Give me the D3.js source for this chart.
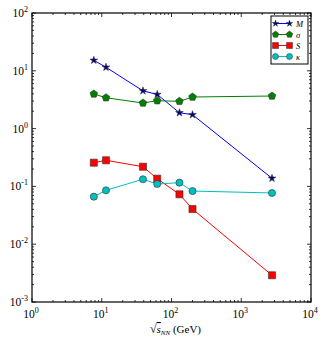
<!DOCTYPE html>
<html>
<head>
<meta charset="utf-8">
<script src="https://cdn.jsdelivr.net/npm/d3@7"></script>
<style>
  body { margin: 0; background: #fff; }
  text { font-family: "Liberation Serif", "DejaVu Serif", serif; }
</style>
</head>
<body>
<svg width="327" height="343"></svg>
<script>
// collision energies (GeV)
const energies = [7.7, 11.5, 39, 62.4, 130, 200, 2760];
const valuesM = [15.2, 11.5, 4.5, 3.9, 1.88, 1.74, 0.138];
const valuesSigma = [3.98, 3.42, 2.77, 3.04, 2.96, 3.52, 3.66];
const valuesS = [0.257, 0.283, 0.219, 0.136, 0.073, 0.0406, 0.0029];
const valuesKappa = [0.0664, 0.0855, 0.133, 0.110, 0.116, 0.083, 0.077];
const xTicks = [0, 1, 2, 3, 4];
const yTicks = [-3, -2, -1, 0, 1, 2];
const legendLabels = ["M", "σ", "S", "κ"];

const svg = d3.select("svg"),
    margin = {top: 13, right: 16, bottom: 41, left: 32},
    width = +svg.attr("width") - margin.left - margin.right,
    height = +svg.attr("height") - margin.top - margin.bottom;

const x = d3.scaleLog().domain([1, 1e4]).range([margin.left, margin.left + width]);
const y = d3.scaleLog().domain([1e-3, 1e2]).range([margin.top + height, margin.top]);

const series = [
    {label: legendLabels[0], values: valuesM, color: "#0000ff", fill: "#000080", marker: "star"},
    {label: legendLabels[1], values: valuesSigma, color: "#008000", fill: "#008000", marker: "pentagon"},
    {label: legendLabels[2], values: valuesS, color: "#ff0000", fill: "#ff0000", marker: "square"},
    {label: legendLabels[3], values: valuesKappa, color: "#00bfbf", fill: "#00bfbf", marker: "circle"}
];

function markerPath(type) {
    if (type === "star") return d3.symbol().type(d3.symbolStar).size(18)();
    if (type === "square") return d3.symbol().type(d3.symbolSquare).size(50)();
    if (type === "circle") return d3.symbol().type(d3.symbolCircle).size(40)();
    // pentagon
    const r = 4, pts = [];
    for (let i = 0; i < 5; i++) {
        const a = -Math.PI / 2 + i * 2 * Math.PI / 5;
        pts.push([r * Math.cos(a), r * Math.sin(a)]);
    }
    return "M" + pts.map(p => p.join(",")).join("L") + "Z";
}

// minor ticks
const minorX = [], minorY = [];
for (let d = 0; d < 4; d++) for (let k = 2; k <= 9; k++) minorX.push(k * Math.pow(10, d));
for (let d = -3; d < 2; d++) for (let k = 2; k <= 9; k++) minorY.push(k * Math.pow(10, d));

const ticks = svg.append("g").attr("stroke", "#000").attr("stroke-width", 0.8);
const x0 = margin.left, x1 = margin.left + width, y0 = margin.top + height, y1 = margin.top;
xTicks.forEach(e => {
    const px = x(Math.pow(10, e));
    ticks.append("line").attr("x1", px).attr("x2", px).attr("y1", y0).attr("y2", y0 - 4);
    ticks.append("line").attr("x1", px).attr("x2", px).attr("y1", y1).attr("y2", y1 + 4);
});
minorX.forEach(v => {
    const px = x(v);
    ticks.append("line").attr("x1", px).attr("x2", px).attr("y1", y0).attr("y2", y0 - 2);
    ticks.append("line").attr("x1", px).attr("x2", px).attr("y1", y1).attr("y2", y1 + 2);
});
yTicks.forEach(e => {
    const py = y(Math.pow(10, e));
    ticks.append("line").attr("x1", x0).attr("x2", x0 + 4).attr("y1", py).attr("y2", py);
    ticks.append("line").attr("x1", x1).attr("x2", x1 - 4).attr("y1", py).attr("y2", py);
});
minorY.forEach(v => {
    const py = y(v);
    ticks.append("line").attr("x1", x0).attr("x2", x0 + 2).attr("y1", py).attr("y2", py);
    ticks.append("line").attr("x1", x1).attr("x2", x1 - 2).attr("y1", py).attr("y2", py);
});

// tick labels
xTicks.forEach(e => {
    const t = svg.append("text")
        .attr("x", x(Math.pow(10, e)) - 1)
        .attr("y", y0 + 16)
        .attr("text-anchor", "middle")
        .attr("font-size", 11.5);
    t.append("tspan").text("10");
    t.append("tspan").attr("dy", -5).attr("font-size", 8).text(e);
});
yTicks.forEach(e => {
    const t = svg.append("text")
        .attr("x", x0 - 4)
        .attr("y", y(Math.pow(10, e)) + 4)
        .attr("text-anchor", "end")
        .attr("font-size", 11.5);
    t.append("tspan").text("10");
    t.append("tspan").attr("dy", -5).attr("font-size", 8).text(e);
});

// axis label
const xl = svg.append("text")
    .attr("x", (x0 + x1) / 2 + 4)
    .attr("y", 333)
    .attr("text-anchor", "middle")
    .attr("font-size", 11);
xl.append("tspan").attr("font-size", 12).text("√");
xl.append("tspan").attr("text-decoration", "overline").attr("font-style", "italic").text("s");
xl.append("tspan").attr("dy", 2).attr("font-size", 7).attr("font-style", "italic").text("NN");
xl.append("tspan").attr("dy", -2).text(" (GeV)");

// lines and markers
const line = d3.line()
    .x((d, i) => x(energies[i]))
    .y(d => y(d));

series.forEach(s => {
    svg.append("path")
        .datum(s.values)
        .attr("fill", "none")
        .attr("stroke", s.color)
        .attr("stroke-width", 1)
        .attr("d", line);
});
series.forEach(s => {
    svg.append("g").selectAll("path")
        .data(s.values)
        .enter().append("path")
        .attr("d", markerPath(s.marker))
        .attr("transform", (d, i) => "translate(" + x(energies[i]) + "," + y(d) + ")")
        .attr("fill", s.fill)
        .attr("stroke", "#333")
        .attr("stroke-width", 0.6);
});

// frame
svg.append("rect")
    .attr("x", x0).attr("y", y1)
    .attr("width", width).attr("height", height)
    .attr("fill", "none")
    .attr("stroke", "#000")
    .attr("stroke-width", 1.2);

// legend
const legend = svg.append("g").attr("transform", "translate(271,16)");
legend.append("rect")
    .attr("width", 37).attr("height", 48)
    .attr("fill", "#fff")
    .attr("stroke", "#000")
    .attr("stroke-width", 1);
series.forEach((s, i) => {
    const ly = 7.5 + i * 11;
    legend.append("line")
        .attr("x1", 4.5).attr("x2", 18.5)
        .attr("y1", ly).attr("y2", ly)
        .attr("stroke", s.color);
    [4.5, 18.5].forEach(mx => {
        legend.append("path")
            .attr("d", markerPath(s.marker))
            .attr("transform", "translate(" + mx + "," + ly + ") scale(0.85)")
            .attr("fill", s.fill)
            .attr("stroke", "#333")
            .attr("stroke-width", 0.6);
    });
    legend.append("text")
        .attr("x", 25)
        .attr("y", ly + 3)
        .attr("font-size", 8.5)
        .attr("font-style", "italic")
        .text(s.label);
});
</script>
</body>
</html>
